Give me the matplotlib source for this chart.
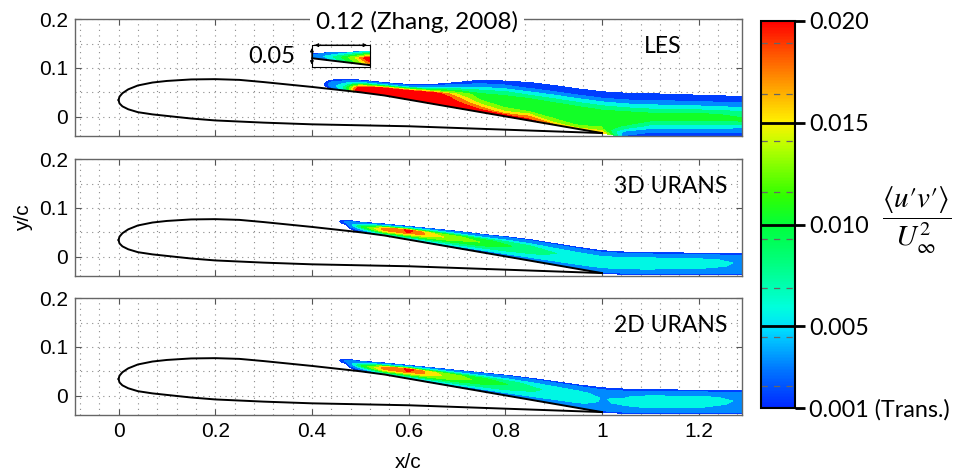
import numpy as np
import matplotlib
matplotlib.use("Agg")
import matplotlib.pyplot as plt
from matplotlib.colors import LinearSegmentedColormap, Normalize
from matplotlib.cm import ScalarMappable
from matplotlib.ticker import MultipleLocator

# airfoil outline (x/c, y/c)
af_x_up = [0, 0.002, 0.008, 0.02, 0.04, 0.07, 0.1, 0.15, 0.2, 0.25, 0.3, 0.35, 0.4, 0.45, 0.5, 0.55, 0.6, 0.7, 0.8, 0.9, 1.0]
af_y_up = [0.034, 0.041, 0.048, 0.056, 0.064, 0.070, 0.0733, 0.0764, 0.077, 0.0755, 0.071, 0.066, 0.061, 0.0555, 0.050, 0.0434, 0.0348, 0.0176, 0.0004, -0.0168, -0.034]
af_x_lo = [0, 0.002, 0.008, 0.02, 0.04, 0.07, 0.1, 0.15, 0.2, 0.3, 0.4, 0.5, 0.6, 0.7, 0.8, 0.9, 1.0]
af_y_lo = [0.034, 0.027, 0.021, 0.015, 0.009, 0.0045, 0.0013, -0.004, -0.008, -0.0125, -0.016, -0.018, -0.020, -0.0235, -0.027, -0.0305, -0.034]

# contour levels of <u'v'>/U^2
levels = [0.001, 0.0021, 0.0045, 0.0069, 0.0093, 0.0116, 0.0141, 0.0164, 0.0189, 0.05]
cbar_ticks = [0.001, 0.005, 0.010, 0.015, 0.020]
cbar_labels = ["0.001 (Trans.)", "0.005", "0.010", "0.015", "0.020"]

# normalised distance from wall / wake bottom (0) to edge of the shear layer (1)
eta = [0, 0.1, 0.25, 0.4, 0.55, 0.7, 0.85, 1.0]

# LES
les_x = [0.42, 0.44, 0.47, 0.50, 0.55, 0.60, 0.65, 0.70, 0.75, 0.80, 0.85, 0.90, 0.95, 1.00, 1.05, 1.10, 1.20, 1.30]
les_top = [0.072, 0.075, 0.077, 0.075, 0.070, 0.066, 0.066, 0.070, 0.075, 0.073, 0.070, 0.064, 0.057, 0.051, 0.048, 0.047, 0.044, 0.041]
les_wake_bottom = -0.042
les_val = [  # x 1e-3
    [0, 0, 0, 0, 0, 0, 0, 0],
    [0, 0.8, 2, 3, 3, 2.5, 1.8, 1.2],
    [5, 7, 8, 7, 5.5, 4, 2.2, 1.2],
    [25, 25, 23, 20, 14, 8, 3.2, 1.2],
    [25, 25, 25, 23, 20, 11, 3.5, 1.2],
    [25, 25, 25, 24, 22, 12, 3.5, 1.2],
    [25, 25, 25, 24, 21, 11, 3.5, 1.2],
    [25, 22, 19, 17, 14, 9, 3, 1.2],
    [22, 18, 14, 11, 10, 6.5, 2.4, 1.2],
    [22, 15, 11.5, 10.5, 10, 7, 2.4, 1.2],
    [20, 17, 11, 10.5, 10, 6, 2.0, 1.2],
    [17, 12, 11, 10.5, 9.6, 6, 2.0, 1.2],
    [15, 11.5, 10.8, 10.2, 9.5, 6, 2.0, 1.2],
    [17, 12, 10.8, 10, 9.4, 6, 2.0, 1.2],
    [1.5, 3, 9, 11, 10, 6, 2.0, 1.2],
    [1.5, 2, 6, 10, 9.3, 5.5, 2.0, 1.2],
    [1.5, 2, 5.5, 9.5, 9.5, 5.5, 2.0, 1.2],
    [1.5, 2, 5, 9.5, 9, 5, 2.0, 1.2],
]

# 3D URANS
u3_x = [0.45, 0.47, 0.50, 0.55, 0.60, 0.65, 0.70, 0.75, 0.80, 0.85, 0.90, 0.95, 1.00, 1.05, 1.10, 1.20, 1.24, 1.30]
u3_top = [0.0755, 0.075, 0.071, 0.067, 0.062, 0.057, 0.052, 0.046, 0.041, 0.035, 0.027, 0.019, 0.012, 0.009, 0.008, 0.007, 0.0065, 0.006]
u3_wake_bottom = -0.037
u3_val = [
    [0, 0, 0, 0, 0, 0, 0, 0],
    [0, 0, 0, 0, 0.5, 1.8, 2.5, 1.5],
    [0.8, 1.5, 3, 6, 9, 7, 3.5, 1.5],
    [3, 6, 11, 16, 17.5, 13, 5, 1.5],
    [2, 5, 10, 15, 19, 20, 7, 1.5],
    [2, 4.5, 9, 13, 15, 14, 6, 1.5],
    [2, 4.5, 8, 11, 13, 12, 5, 1.5],
    [2, 4, 7, 10, 11.5, 10, 4.5, 1.5],
    [2, 3.8, 6.5, 8.5, 9.8, 8.5, 4, 1.5],
    [1.8, 3.5, 6, 7.5, 8, 7, 3.5, 1.5],
    [1.6, 3.2, 5.5, 6.5, 7, 6, 3.2, 1.5],
    [1.5, 3, 5, 6, 6.2, 5.5, 3, 1.5],
    [1.5, 2.8, 4.6, 5.6, 5.8, 5, 2.8, 1.5],
    [1.5, 2.6, 4.5, 5.6, 6, 5.5, 3, 1.5],
    [1.5, 2.6, 4.5, 5.8, 6, 5.5, 3, 1.5],
    [1.5, 2.6, 4.3, 5.3, 5.4, 5, 2.8, 1.5],
    [1.5, 2.5, 4, 4.7, 4.8, 4.5, 2.7, 1.5],
    [1.5, 2.5, 3.5, 4, 4.2, 4, 2.6, 1.5],
]

# 2D URANS
u2_x = u3_x
u2_top = [0.0755, 0.075, 0.071, 0.067, 0.062, 0.057, 0.052, 0.047, 0.042, 0.036, 0.029, 0.022, 0.016, 0.013, 0.012, 0.011, 0.0105, 0.010]
u2_wake_bottom = -0.037
u2_val = [
    [0, 0, 0, 0, 0, 0, 0, 0],
    [0, 0, 0, 0, 0.5, 1.8, 2.5, 1.5],
    [0.8, 1.5, 3, 6, 9, 7, 3.5, 1.5],
    [3, 6, 11, 16, 17.5, 13, 5, 1.5],
    [2, 5, 10, 15, 19, 20, 7, 1.5],
    [2, 4.5, 9, 13, 15, 14.5, 6, 1.5],
    [2, 4.5, 8, 11, 12.5, 12, 5, 1.5],
    [2, 4, 7, 9.5, 11, 10, 4.5, 1.5],
    [2, 3.8, 6.5, 8.3, 9.5, 8, 4, 1.5],
    [1.8, 3.5, 5.8, 7, 7.3, 6.5, 3.5, 1.5],
    [1.6, 3.2, 5.2, 6.3, 6.5, 5.8, 3.2, 1.5],
    [1.5, 3, 4.8, 5.5, 5.6, 5, 3, 1.5],
    [1.5, 2.6, 3.8, 4.3, 4.4, 4, 2.6, 1.5],
    [1.5, 2.6, 4.2, 4.8, 4.8, 4.3, 2.6, 1.5],
    [1.5, 2.6, 4.6, 5.6, 5.8, 5.2, 2.8, 1.5],
    [1.5, 2.6, 4.5, 5.4, 5.5, 5, 2.8, 1.5],
    [1.5, 2.5, 4, 4.7, 4.8, 4.5, 2.7, 1.5],
    [1.5, 2.5, 3.5, 4, 4.2, 4, 2.6, 1.5],
]

# inset: Zhang (2008) experiment
ins_x = [0.401, 0.43, 0.46, 0.49, 0.519]
ins_plate = [0.120, 0.1165, 0.113, 0.1095, 0.106]
ins_top = [0.130, 0.131, 0.132, 0.133, 0.1335]
ins_eta = [0, 0.5, 1.0]
ins_val = [
    [1.5, 2.5, 1.5],
    [3, 5, 2],
    [7, 9, 3],
    [11, 14, 4],
    [16, 22, 5],
]

panels = [
    ("LES", les_x, les_top, les_wake_bottom, les_val, 1.125),
    ("3D URANS", u3_x, u3_top, u3_wake_bottom, u3_val, 1.143),
    ("2D URANS", u2_x, u2_top, u2_wake_bottom, u2_val, 1.143),
]

cmap = LinearSegmentedColormap.from_list("uv", [
    (0.00, (0 / 255, 40 / 255, 1.0)),
    (0.10, (0, 120 / 255, 1.0)),
    (0.20, (0, 220 / 255, 1.0)),
    (0.26, (0, 1.0, 220 / 255)),
    (0.37, (0, 1.0, 130 / 255)),
    (0.47, (0, 1.0, 60 / 255)),
    (0.55, (50 / 255, 1.0, 0)),
    (0.68, (190 / 255, 1.0, 0)),
    (0.74, (1.0, 240 / 255, 0)),
    (0.82, (1.0, 170 / 255, 0)),
    (0.92, (1.0, 80 / 255, 0)),
    (1.00, (1.0, 0, 0)),
])
norm = Normalize(vmin=0.001, vmax=0.020)

TXT = "Lato"
TICK = "Liberation Sans"


def shear_layer(xs, lo, top, vals, eta_):
    xs = np.asarray(xs, float)
    e = np.asarray(eta_, float)
    lo = np.asarray(lo, float)
    X = np.repeat(xs[:, None], len(e), axis=1)
    Y = lo[:, None] + e[None, :] * (np.asarray(top, float) - lo)[:, None]
    return X, Y, np.asarray(vals, float) * 1e-3


def wall_or_wake(xs, bottom):
    xs = np.asarray(xs, float)
    return np.where(xs <= 1.0, np.interp(xs, af_x_up, af_y_up), bottom)


fig = plt.figure(figsize=(9.56, 4.72), dpi=100)
bottoms = [0.7119, 0.4153, 0.1208]
axes = []
for k, (name, xs, top, bot, vals, lx) in enumerate(panels):
    ax = fig.add_axes([0.0785, bottoms[k], 0.6977, 0.247])
    axes.append(ax)
    X, Y, V = shear_layer(xs, wall_or_wake(xs, bot), top, vals, eta)
    ax.contourf(X, Y, V, levels=levels, cmap=cmap, norm=norm, zorder=1)
    ax.plot(af_x_up, af_y_up, color="black", lw=1.4, zorder=3)
    ax.plot(af_x_lo, af_y_lo, color="black", lw=1.4, zorder=3)

    ax.set_xlim(-0.09, 1.29)
    ax.set_ylim(-0.04, 0.2)
    ax.xaxis.set_major_locator(MultipleLocator(0.2))
    ax.xaxis.set_minor_locator(MultipleLocator(0.04))
    ax.yaxis.set_major_locator(MultipleLocator(0.1))
    ax.yaxis.set_minor_locator(MultipleLocator(0.05))
    ax.grid(which="both", ls=(0, (1, 4)), color="#8c8c8c", lw=0.8, zorder=0)
    ax.set_axisbelow(True)
    ax.tick_params(which="major", direction="in", length=4, width=0.8, color="#555555",
                   top=True, right=True, labelsize=15, pad=5)
    ax.tick_params(which="minor", length=0)
    ax.set_yticks([0, 0.1, 0.2])
    ax.set_yticklabels(["0", "0.1", "0.2"], fontfamily=TICK)
    if k < 2:
        ax.set_xticklabels([])
    else:
        ax.set_xticks([0, 0.2, 0.4, 0.6, 0.8, 1.0, 1.2])
        ax.set_xticklabels(["0", "0.2", "0.4", "0.6", "0.8", "1", "1.2"], fontfamily=TICK)
    for s in ax.spines.values():
        s.set_color("#666666")
        s.set_linewidth(1.0)
    ax.text(lx, 0.145, name, fontsize=16.5, fontfamily=TXT, ha="center", va="center", zorder=5)

# inset with the experimental reference on the LES panel
ax = axes[0]
X, Y, V = shear_layer(ins_x, ins_plate, ins_top, ins_val, ins_eta)
ax.contourf(X, Y, V, levels=levels, cmap=cmap, norm=norm, zorder=2)
ax.plot(ins_x, ins_plate, color="black", lw=1.4, zorder=3)
ax.plot([0.40, 0.52, 0.52, 0.40, 0.40], [0.101, 0.101, 0.147, 0.147, 0.101], color="black", lw=0.8, zorder=3)
ax.annotate("", xy=(0.40, 0.147), xytext=(0.52, 0.147),
            arrowprops=dict(arrowstyle="<|-|>", color="black", lw=0.8, mutation_scale=5), zorder=4)
ax.annotate("", xy=(0.40, 0.101), xytext=(0.40, 0.147),
            arrowprops=dict(arrowstyle="<|-|>", color="black", lw=0.8, mutation_scale=5), zorder=4)
ax.text(0.365, 0.1226, "0.05", fontsize=17, fontfamily=TXT, ha="right", va="center", zorder=5)
ax.text(0.618, 0.195, "0.12 (Zhang, 2008)", fontsize=17.5, fontfamily=TXT, ha="center", va="center",
        zorder=5, clip_on=False,
        bbox=dict(boxstyle="square,pad=0.25", facecolor="white", edgecolor="none"))

axes[1].set_ylabel("y/c", fontsize=15, fontfamily=TICK, labelpad=4)
axes[2].set_xlabel("x/c", fontsize=15, fontfamily=TICK, labelpad=9)

# colour bar
cax = fig.add_axes([0.7957, 0.1356, 0.0359, 0.8206])
cb = fig.colorbar(ScalarMappable(norm=norm, cmap=cmap), cax=cax, ticks=cbar_ticks)
cb.ax.set_yticklabels(cbar_labels, fontfamily=TXT, fontsize=16.8)
cb.ax.tick_params(direction="out", length=7, width=2, color="black", pad=3)
cb.outline.set_linewidth(1.5)
for lev in levels[1:-1]:
    cax.axhline(lev, color="#666666", lw=0.9, ls=(0, (5, 5)))
for t in cbar_ticks[1:-1]:
    cax.axhline(t, color="black", lw=2)
fig.text(0.959, 0.534, "$\\dfrac{\\langle u\u2032 v\u2032\\rangle}{U_{\\infty}^{2}}$",
         fontsize=21, ha="center", va="center", math_fontfamily="stix")

fig.savefig("out.png", dpi=100)
